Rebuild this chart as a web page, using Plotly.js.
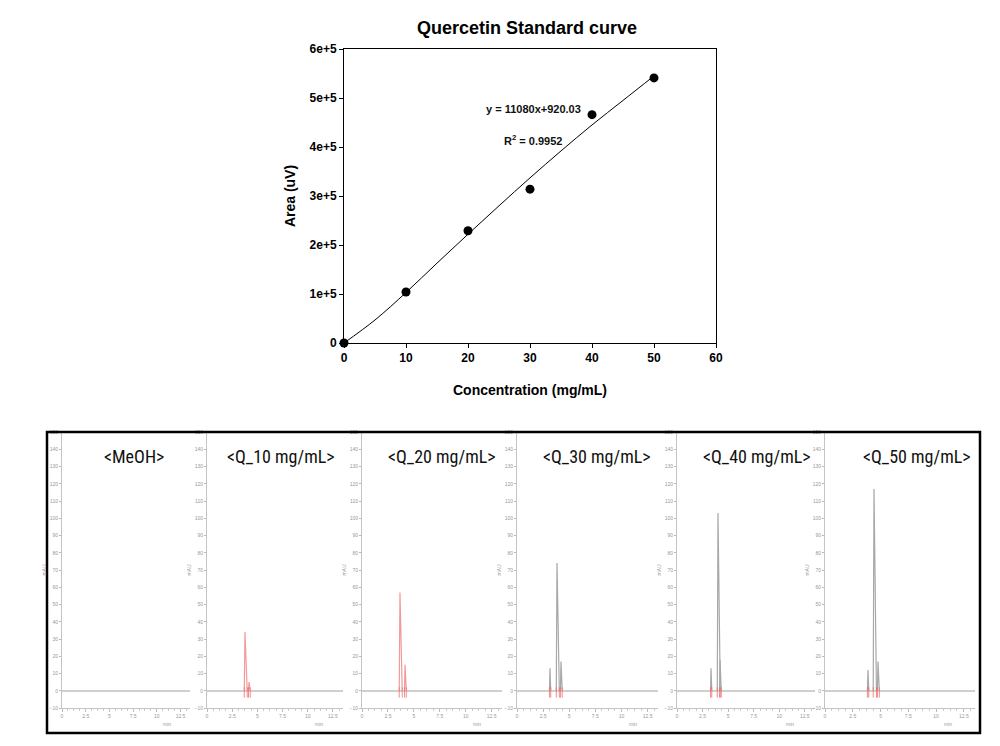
<!DOCTYPE html>
<html>
<head>
<meta charset="utf-8">
<script src="https://cdn.plot.ly/plotly-3.0.1.min.js"></script>
<style>html,body{margin:0;padding:0;background:#fff}#chart{width:1000px;height:746px}</style>
</head>
<body>
<div id="chart"></div>
<script>
// ---- Standard curve data ----
const concentration = [0, 10, 20, 30, 40, 50];
const area = [0, 104000, 229000, 314000, 466000, 541000];
const fitConcentration = [0, 5, 10, 15, 20, 25, 30, 35, 40, 45, 50];
const fitArea = [0, 47000, 103000, 163000, 222000, 280000, 337000, 392000, 445000, 495000, 545000];
const areaTickValues = [0, 100000, 200000, 300000, 400000, 500000, 600000];
const areaTickLabels = ['0', '1e+5', '2e+5', '3e+5', '4e+5', '5e+5', '6e+5'];
const concTickValues = [0, 10, 20, 30, 40, 50, 60];
const equationText = 'y = 11080x+920.03';
const r2Text = 'R<sup>2</sup> = 0.9952';

// ---- Chromatogram data (min, mAU) ----
const chromLabels = ['&lt;MeOH&gt;', '&lt;Q_10 mg/mL&gt;', '&lt;Q_20 mg/mL&gt;', '&lt;Q_30 mg/mL&gt;', '&lt;Q_40 mg/mL&gt;', '&lt;Q_50 mg/mL&gt;'];
const mainPeakTime = [null, 3.77, 3.66, 3.83, 4.01, 4.41];
const mainPeakHeight = [0, 34, 57, 74, 103, 117];
const prePeakTime = [null, null, null, 3.16, 3.33, 3.87];
const prePeakHeight = [0, 0, 0, 13, 13, 12];
const postPeakTime = [null, 4.17, 4.15, 4.21, 4.21, 4.77];
const postPeakHeight = [0, 5, 15, 17, 18, 17];

const W = 1000, H = 746;
const fx = p => p / W;
const fy = p => 1 - p / H;

const traces = [];
traces.push({
  x: fitConcentration, y: fitArea, type: 'scatter', mode: 'lines',
  line: {color: '#000', width: 1, shape: 'spline', smoothing: 1}, xaxis: 'x', yaxis: 'y',
  hoverinfo: 'skip', showlegend: false
});
traces.push({
  x: concentration, y: area, type: 'scatter', mode: 'markers',
  marker: {color: '#000', size: 9}, xaxis: 'x', yaxis: 'y',
  cliponaxis: false, showlegend: false
});

const panelLeft = [62, 207, 362, 517, 677, 825];
const panelRight = [190, 343, 502, 658, 815, 975];
const titleCenter = [134, 281, 442, 597, 757, 917];
const peakColor = ['#999', '#f29a9a', '#f29a9a', '#a8a8a8', '#a8a8a8', '#a8a8a8'];

const layout = {
  width: W, height: H,
  margin: {l: 0, r: 0, t: 0, b: 0},
  paper_bgcolor: '#fff', plot_bgcolor: '#fff',
  showlegend: false,
  font: {family: 'Liberation Sans, Arial, sans-serif', color: '#000'},
  title: {
    text: 'Quercetin Standard curve', x: fx(527), y: fy(28), xanchor: 'center', yanchor: 'middle',
    font: {size: 18, weight: 'bold', family: 'Liberation Sans, Arial, sans-serif', color: '#000'}
  },
  xaxis: {
    domain: [fx(344), fx(716)], range: [0, 60], tickvals: concTickValues,
    ticks: 'outside', ticklen: 4, tickcolor: '#000', showline: true, linecolor: '#000', linewidth: 1,
    mirror: true, showgrid: false, zeroline: false,
    tickfont: {size: 12, weight: 'bold'}, anchor: 'y',
    title: {text: 'Concentration (mg/mL)', font: {size: 14, weight: 'bold'}, standoff: 20}
  },
  yaxis: {
    domain: [fy(343), fy(49)], range: [0, 600000], tickvals: areaTickValues, ticktext: areaTickLabels,
    ticks: 'outside', ticklen: 4, tickcolor: '#000', showline: true, linecolor: '#000', linewidth: 1,
    mirror: true, showgrid: false, zeroline: false,
    tickfont: {size: 12, weight: 'bold'}, anchor: 'x',
    title: {text: 'Area (uV)', font: {size: 14, weight: 'bold'}, standoff: 10}
  },
  annotations: [
    {text: equationText, xref: 'paper', yref: 'paper', x: fx(533), y: fy(109), showarrow: false,
     xanchor: 'center', yanchor: 'middle', font: {size: 11, weight: 'bold', family: 'Liberation Sans, Arial, sans-serif', color: '#111'}},
    {text: r2Text, xref: 'paper', yref: 'paper', x: fx(533), y: fy(140), showarrow: false,
     xanchor: 'center', yanchor: 'middle', font: {size: 11, weight: 'bold', family: 'Liberation Sans, Arial, sans-serif', color: '#111'}}
  ],
  shapes: [
    {type: 'rect', xref: 'paper', yref: 'paper', x0: fx(47), x1: fx(980), y0: fy(733), y1: fy(432),
     line: {color: '#000', width: 2.5}, fillcolor: 'rgba(0,0,0,0)'}
  ]
};

for (let i = 0; i < 6; i++) {
  const n = i + 2;
  const xa = 'x' + n, ya = 'y' + n;
  const px = [], py = [], rx = [], ry = [];
  const peaks = [
    [prePeakTime[i], prePeakHeight[i], 0.05, 0.07],
    [mainPeakTime[i], mainPeakHeight[i], 0.07, 0.22],
    [postPeakTime[i], postPeakHeight[i], 0.05, 0.12]
  ];
  peaks.forEach(([t, h, wl, wr]) => {
    if (t === null || h === 0) return;
    px.push(t - wl, t, t + wr, null); py.push(0, h, 0, null);
    rx.push(t - wl, t - wl, null, t + wr, t + wr, null); ry.push(-4, 2, null, -4, 2, null);
  });
  traces.push({x: px, y: py, type: 'scatter', mode: 'lines', line: {color: peakColor[i], width: 1.2},
    xaxis: xa, yaxis: ya, hoverinfo: 'skip', showlegend: false, connectgaps: false});
  traces.push({x: rx, y: ry, type: 'scatter', mode: 'lines', line: {color: '#f07070', width: 0.8},
    xaxis: xa, yaxis: ya, hoverinfo: 'skip', showlegend: false, connectgaps: false});

  layout['xaxis' + n] = {
    domain: [fx(panelLeft[i]), fx(panelRight[i])], range: [0, 13.5], anchor: ya,
    dtick: 2.5, tick0: 0, ticks: 'outside', ticklen: 3, tickcolor: '#bbb',
    minor: {dtick: 0.625, ticks: 'outside', ticklen: 2, tickcolor: '#ccc'},
    showline: true, linecolor: '#c4c4c4', linewidth: 1, showgrid: false, zeroline: false,
    tickfont: {size: 5, color: '#999'}, fixedrange: true
  };
  layout['yaxis' + n] = {
    domain: [fy(708), fy(432)], range: [-10, 150], anchor: xa,
    dtick: 10, tick0: 0, ticks: 'outside', ticklen: 2, tickcolor: '#bbb',
    showline: true, linecolor: '#c4c4c4', linewidth: 1, showgrid: false,
    zeroline: true, zerolinecolor: '#cfcfcf', zerolinewidth: 2,
    tickfont: {size: 5, color: '#999'}, fixedrange: true,
    title: {text: 'mAU', font: {size: 5, color: '#999'}, standoff: 2}
  };
  layout.annotations.push({
    text: chromLabels[i], xref: 'paper', yref: 'paper', x: fx(titleCenter[i]), y: fy(456),
    showarrow: false, xanchor: 'center', yanchor: 'middle',
    font: {size: 18, family: 'Liberation Sans Narrow, Arial Narrow, Roboto Condensed, Liberation Sans, sans-serif', color: '#111'}
  });
  layout.annotations.push({
    text: 'min', xref: 'paper', yref: 'paper',
    x: fx(panelLeft[i] + 0.82 * (panelRight[i] - panelLeft[i])), y: fy(724),
    showarrow: false, xanchor: 'center', yanchor: 'middle', font: {size: 5, color: '#999'}
  });
}

Plotly.newPlot('chart', traces, layout, {displayModeBar: false, staticPlot: true});
</script>
</body>
</html>
